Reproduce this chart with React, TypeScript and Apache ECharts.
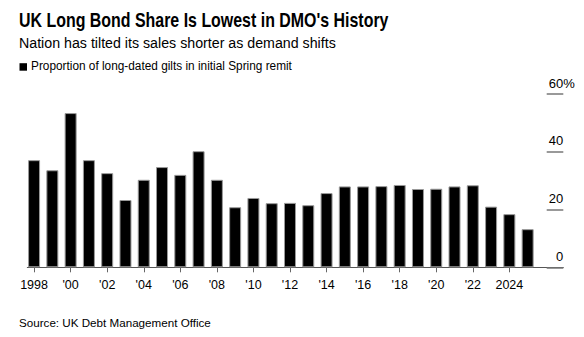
import React, { useEffect, useRef } from "react";
import * as echarts from "echarts";

const years = [1998, 1999, 2000, 2001, 2002, 2003, 2004, 2005, 2006, 2007, 2008, 2009, 2010, 2011, 2012, 2013, 2014, 2015, 2016, 2017, 2018, 2019, 2020, 2021, 2022, 2023, 2024, 2025];
const shares = [37.1, 33.6, 53.4, 37.1, 32.6, 23.3, 30.3, 34.7, 32.0, 40.2, 30.3, 20.8, 24.0, 22.2, 22.3, 21.5, 25.7, 28.0, 28.0, 28.1, 28.5, 27.1, 27.2, 28.0, 28.4, 21.0, 18.4, 13.2];
const xTicks = [1998, 2000, 2002, 2004, 2006, 2008, 2010, 2012, 2014, 2016, 2018, 2020, 2022, 2024];
const yTicks = [0, 20, 40, 60];

const titleText = "UK Long Bond Share Is Lowest in DMO's History";
const subtitleText = "Nation has tilted its sales shorter as demand shifts";
const seriesName = "Proportion of long-dated gilts in initial Spring remit";
const sourceText = "Source: UK Debt Management Office";
const FONT = "'Liberation Sans', Arial, sans-serif";

function fitScale(text: string, font: string, target: number): number {
  const ctx = document.createElement("canvas").getContext("2d");
  if (!ctx) return 1;
  ctx.font = font;
  const w = ctx.measureText(text).width;
  return w > 0 ? target / w : 1;
}

export default function App() {
  const ref = useRef<HTMLDivElement>(null);
  useEffect(() => {
    if (!ref.current) return;
    const chart = echarts.init(ref.current, null, { renderer: "svg" });
    const titleFont = "bold 19.5px 'Liberation Sans', Arial, sans-serif";
    const subFont = "15.5px 'Liberation Sans', Arial, sans-serif";
    const legFont = "13.5px 'Liberation Sans', Arial, sans-serif";
    const srcFont = "11.6px 'Liberation Sans', Arial, sans-serif";
    chart.setOption({
      animation: false,
      backgroundColor: "#fff",
      textStyle: { fontFamily: FONT },
      graphic: [
        {
          type: "text",
          x: 19,
          y: 20,
          scaleX: fitScale(titleText, titleFont, 370),
          style: { text: titleText, font: titleFont, fill: "#000", verticalAlign: "middle" },
        },
        {
          type: "text",
          x: 19,
          y: 43,
          scaleX: fitScale(subtitleText, subFont, 317),
          style: { text: subtitleText, font: subFont, fill: "#000", verticalAlign: "middle" },
        },
        {
          type: "rect",
          shape: { x: 19.5, y: 63.2, width: 7.5, height: 7.5 },
          style: { fill: "#000" },
        },
        {
          type: "text",
          x: 31,
          y: 66,
          scaleX: fitScale(seriesName, legFont, 261),
          style: { text: seriesName, font: legFont, fill: "#000", verticalAlign: "middle" },
        },
        {
          type: "text",
          x: 19,
          y: 323,
          scaleX: fitScale(sourceText, srcFont, 192),
          style: { text: sourceText, font: srcFont, fill: "#000", verticalAlign: "middle" },
        },
      ],
      grid: { left: 27.3, right: 20.7, top: 94, bottom: 69.7, containLabel: false },
      xAxis: {
        type: "value",
        min: 1997.63,
        max: 2026.95,
        splitLine: { show: false },
        axisLine: { show: true, lineStyle: { color: "#555", width: 1 } },
        axisTick: { show: true, customValues: xTicks, length: 5, lineStyle: { color: "#666" } },
        axisLabel: {
          customValues: xTicks,
          margin: 11,
          fontFamily: FONT,
          fontSize: 12.5,
          color: "#000",
          formatter: (v: number) => (v === 1998 || v === 2024 ? String(v) : "'" + String(v).slice(2)),
        },
      },
      yAxis: {
        type: "value",
        position: "right",
        min: 0,
        max: 60,
        interval: 20,
        splitLine: { show: false },
        axisLine: { show: false },
        axisTick: { show: true, inside: true, length: 16.6, lineStyle: { color: "#777", width: 1.5 } },
        axisLabel: {
          inside: true,
          margin: -11.5,
          fontFamily: FONT,
          fontSize: 13,
          color: "#000",
          verticalAlign: "bottom",
          lineHeight: 14,
          padding: [0, 0, 4, 0],
          customValues: yTicks,
          formatter: (v: number) => (v === 60 ? "{n|60}{p|%}" : "{n|" + v + "}{h|%}"),
          rich: {
            n: { fontFamily: FONT, fontSize: 13, color: "#000" },
            p: { fontFamily: FONT, fontSize: 13, color: "#000" },
            h: { fontFamily: FONT, fontSize: 13, color: "rgba(0,0,0,0)" },
          },
        },
      },
      series: [
        {
          name: seriesName,
          type: "bar",
          barWidth: 12,
          itemStyle: { color: "#000", borderColor: "#999", borderWidth: 1 },
          data: years.map((y, i) => [y, shares[i]]),
        },
      ],
    });
    return () => chart.dispose();
  }, []);
  return <div ref={ref} style={{ position: "fixed", left: 0, top: 0, width: 584, height: 337 }} />;
}
